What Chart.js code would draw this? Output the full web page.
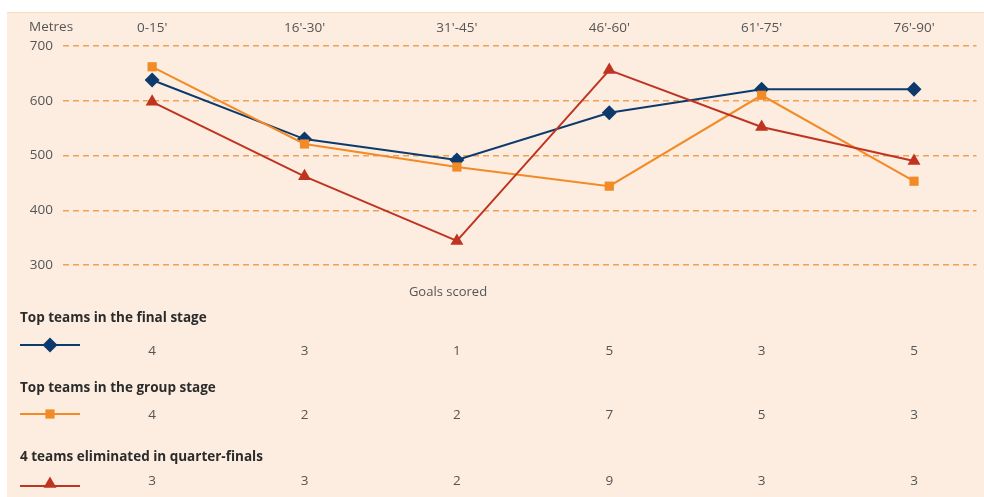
<!doctype html>
<html lang="en">

<head>
    <meta charset="utf-8">
    <title>Distance covered and goals scored by period</title>
    <style>
        * {
            margin: 0;
            padding: 0;
        }

        body {
            background: #fff;
            width: 984px;
            height: 497px;
            overflow: hidden;
            position: relative;
        }

        .panel {
            position: absolute;
            left: 7px;
            top: 12px;
            width: 977px;
            height: 485px;
            background: #fcede0;
            border-top: 1px solid #f9d9b8;
        }

        .chartBox {
            position: absolute;
            left: 0;
            top: 0;
            width: 984px;
            height: 497px;
        }
    </style>
</head>

<body>
    <div class="panel"></div>
    <div class="chartBox">
        <canvas id="myChart"></canvas>
    </div>
    <script src="https://cdn.jsdelivr.net/npm/chart.js/dist/chart.umd.min.js"></script>
    <script>
        // data
        const periods = ["0-15'", "16'-30'", "31'-45'", "46'-60'", "61'-75'", "76'-90'"];
        const seriesNames = ['Top teams in the final stage', 'Top teams in the group stage', '4 teams eliminated in quarter-finals'];
        const finalStageMetres = [638, 530, 492, 578, 621, 621];
        const groupStageMetres = [662, 521, 479, 444, 610, 453];
        const eliminatedMetres = [598, 462, 344, 656, 552, 490];
        const finalStageGoals = [4, 3, 1, 5, 3, 5];
        const groupStageGoals = [4, 2, 2, 7, 5, 3];
        const eliminatedGoals = [3, 3, 2, 9, 3, 3];
        const yTicks = [300, 400, 500, 600, 700];

        const styles = [
            { color: '#0c3a6c', pointStyle: 'rectRot', radius: 7.5 },
            { color: '#f28a26', pointStyle: 'rect', radius: 6.5 },
            { color: '#bf3421', pointStyle: 'triangle', radius: 7.5 }
        ];
        const metres = [finalStageMetres, groupStageMetres, eliminatedMetres];
        const goals = [finalStageGoals, groupStageGoals, eliminatedGoals];

        const textFont = '"Open Sans", "Noto Sans", sans-serif';

        // table of goals under the chart, placed with the x scale
        const goalsTable = {
            id: 'goalsTable',
            afterDraw(chart) {
                const ctx = chart.ctx;
                const x = chart.scales.x;
                ctx.save();
                ctx.fillStyle = '#555';
                ctx.font = '13px ' + textFont;
                ctx.textAlign = 'center';
                ctx.textBaseline = 'middle';
                ctx.fillText('Goals scored', 448, 292);

                // Metres label over the y axis
                ctx.font = '13.5px ' + textFont;
                ctx.textAlign = 'left';
                ctx.fillText('Metres', 29, 27);

                const titleY = [318, 388, 457];
                const rowY = [351, 415, 481];
                const symY = [345, 414, 486];
                for (let r = 0; r < 3; r++) {
                    ctx.font = 'bold 13.5px ' + textFont;
                    ctx.fillStyle = '#2b2b2b';
                    ctx.textAlign = 'left';
                    ctx.fillText(seriesNames[r], 20, titleY[r]);

                    ctx.strokeStyle = styles[r].color;
                    ctx.lineWidth = 2;
                    ctx.beginPath();
                    ctx.moveTo(20, symY[r]);
                    ctx.lineTo(80, symY[r]);
                    ctx.stroke();
                    ctx.fillStyle = styles[r].color;
                    Chart.helpers.drawPoint(ctx, {
                        pointStyle: styles[r].pointStyle,
                        radius: styles[r].radius,
                        borderWidth: 0,
                        rotation: 0
                    }, 50, symY[r] - (r === 2 ? 2 : 0));

                    ctx.font = '13.5px ' + textFont;
                    ctx.fillStyle = '#555';
                    ctx.textAlign = 'center';
                    goals[r].forEach((g, i) => {
                        ctx.fillText(String(g), x.getPixelForValue(i), rowY[r]);
                    });
                }
                ctx.restore();
            }
        };

        const datasets = metres.map((values, r) => ({
            label: seriesNames[r],
            data: values.map((v, i) => ({ x: i, y: v })),
            borderColor: styles[r].color,
            backgroundColor: styles[r].color,
            borderWidth: 2,
            pointStyle: styles[r].pointStyle,
            pointRadius: styles[r].radius,
            pointHoverRadius: styles[r].radius,
            pointBorderWidth: 0,
            tension: 0,
            clip: false
        })).reverse();

        const config = {
            type: 'line',
            data: { datasets: datasets },
            options: {
                responsive: false,
                animation: false,
                events: [],
                layout: {
                    padding: { top: 0, left: 0, right: 0, bottom: 232 }
                },
                plugins: {
                    legend: { display: false },
                    tooltip: { enabled: false }
                },
                scales: {
                    x: {
                        type: 'linear',
                        position: 'top',
                        min: -0.585,
                        max: 5.41,
                        afterBuildTicks(scale) {
                            scale.ticks = periods.map((p, i) => ({ value: i }));
                        },
                        afterFit(scale) {
                            scale.height = 46;
                        },
                        grid: { display: false, drawTicks: false },
                        border: { display: false },
                        ticks: {
                            padding: 10,
                            color: '#555',
                            font: { family: textFont, size: 13.5 },
                            maxRotation: 0,
                            autoSkip: false,
                            callback: (v) => periods[v]
                        }
                    },
                    y: {
                        min: 300,
                        max: 700,
                        afterBuildTicks(scale) {
                            scale.ticks = yTicks.map(v => ({ value: v }));
                        },
                        afterFit(scale) {
                            scale.width = 63;
                        },
                        grid: {
                            color: '#f0a155',
                            lineWidth: 1.5,
                            drawTicks: false
                        },
                        border: { display: false, dash: [6, 4] },
                        ticks: {
                            padding: 10,
                            color: '#555',
                            font: { family: textFont, size: 13.5 }
                        }
                    }
                }
            },
            plugins: [goalsTable]
        };

        const canvas = document.getElementById('myChart');
        canvas.width = 984;
        canvas.height = 497;
        const myChart = new Chart(canvas, config);
    </script>

</body>

</html>
